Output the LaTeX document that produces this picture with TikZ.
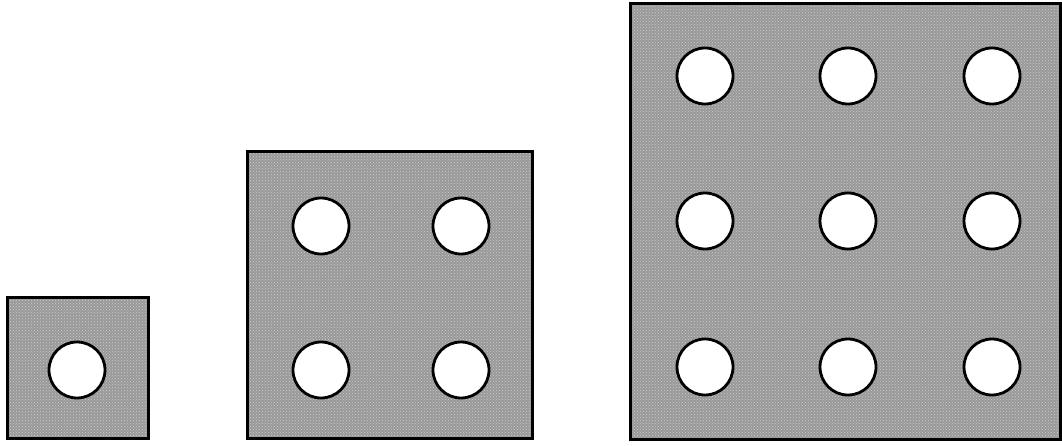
\documentclass[tikz,border=0pt]{standalone}
\usetikzlibrary{patterns}
\begin{document}
\begin{tikzpicture}[x=1pt,y=-1pt,
  plate/.style={draw=black, line width=3pt, fill=black!40},
  texture/.style={pattern=crosshatch dots, pattern color=white!80!black},
  hole/.style={circle, draw=black, line width=2.8pt, fill=white, minimum size=56pt, inner sep=0pt}]
\useasboundingbox (0,0) rectangle (1062,446);
% plates
\draw[plate] (7,297) rectangle (148,438);
\fill[texture] (8,298) rectangle (147,437);
\draw[plate] (247,152) rectangle (532,438);
\fill[texture] (248,153) rectangle (531,437);
\draw[plate] (630,4) rectangle (1060,439);
\fill[texture] (631,5) rectangle (1059,438);
\draw[black, line width=3pt] (7,297) rectangle (148,438);
\draw[black, line width=3pt] (247,152) rectangle (532,438);
\draw[black, line width=3pt] (630,4) rectangle (1060,439);
% holes
\node[hole] (a) at (77,370) {};
\node[hole] (b1) at (321,226) {};
\node[hole] (b2) at (461,226) {};
\node[hole] (b3) at (321,370) {};
\node[hole] (b4) at (461,370) {};
\node[hole] (c1) at (705,76) {};
\node[hole] (c2) at (848,76) {};
\node[hole] (c3) at (992,76) {};
\node[hole] (c4) at (705,221) {};
\node[hole] (c5) at (848,221) {};
\node[hole] (c6) at (992,221) {};
\node[hole] (c7) at (705,367) {};
\node[hole] (c8) at (848,367) {};
\node[hole] (c9) at (992,367) {};
\end{tikzpicture}
\end{document}
